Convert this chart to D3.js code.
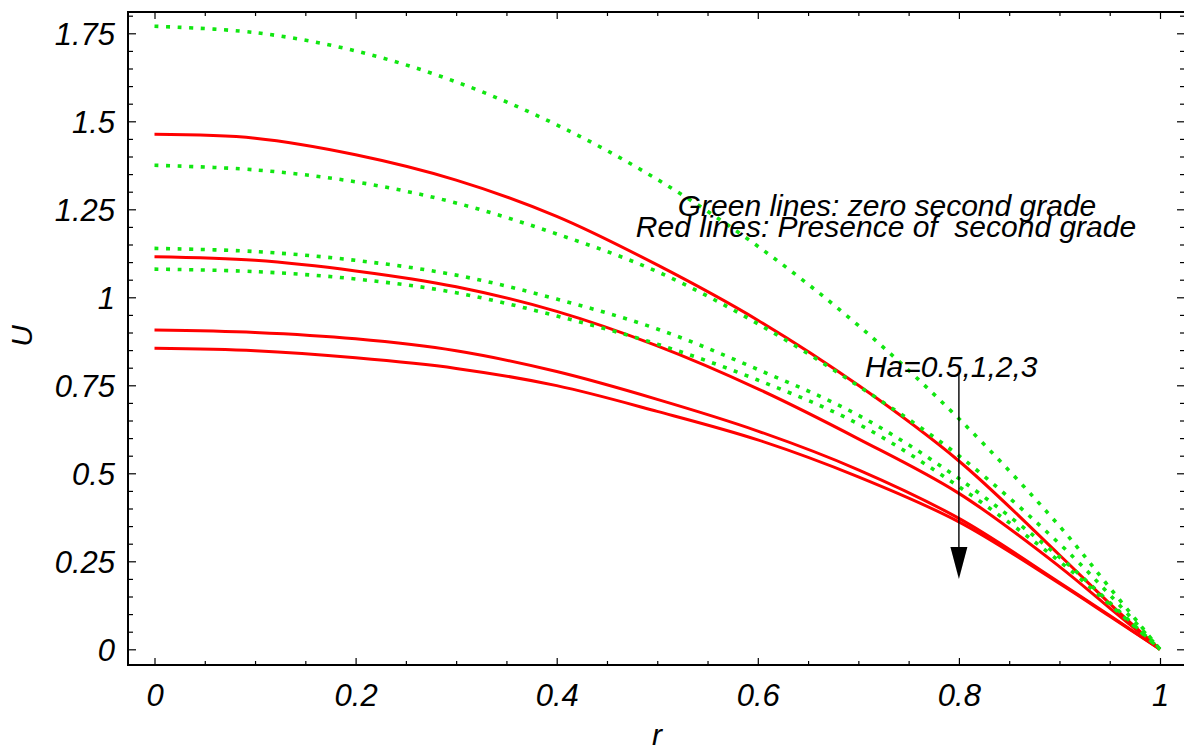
<!DOCTYPE html>
<html>
<head>
<meta charset="utf-8">
<script src="https://cdn.jsdelivr.net/npm/d3@7"></script>
<style>
  html, body { margin: 0; padding: 0; background: #fff; }
  svg { display: block; }
  text { font-family: "Liberation Sans", Arial, sans-serif; font-style: italic; }
</style>
</head>
<body>
<svg id="chart" width="1184" height="747"></svg>
<script>
// ---- data ----
const rValues = [0, 0.1, 0.2, 0.3, 0.4, 0.5, 0.6, 0.7, 0.8, 0.9, 0.95, 1];
// Green lines: zero second grade, Ha = 0.5, 1, 2, 3
const greenHa05 = [1.77, 1.752, 1.70, 1.612, 1.49, 1.335, 1.145, 0.92, 0.655, 0.35, 0.175, 0];
const greenHa1  = [1.375, 1.362, 1.328, 1.268, 1.18, 1.073, 0.925, 0.748, 0.55, 0.30, 0.155, 0];
const greenHa2  = [1.139, 1.13, 1.105, 1.063, 0.995, 0.91, 0.795, 0.665, 0.485, 0.262, 0.133, 0];
const greenHa3  = [1.08, 1.073, 1.052, 1.013, 0.947, 0.867, 0.765, 0.64, 0.462, 0.25, 0.127, 0];
// Red lines: presence of second grade, Ha = 0.5, 1, 2, 3
const redHa05 = [1.463, 1.452, 1.405, 1.333, 1.23, 1.092, 0.935, 0.75, 0.535, 0.268, 0.13, 0];
const redHa1  = [1.115, 1.105, 1.075, 1.030, 0.96, 0.862, 0.74, 0.598, 0.443, 0.235, 0.117, 0];
const redHa2  = [0.907, 0.90, 0.882, 0.848, 0.789, 0.71, 0.62, 0.51, 0.372, 0.19, 0.096, 0];
const redHa3  = [0.855, 0.848, 0.828, 0.798, 0.749, 0.676, 0.595, 0.49, 0.362, 0.187, 0.094, 0];

const xTickValues = [0, 0.2, 0.4, 0.6, 0.8, 1];
const xTickLabels = ["0", "0.2", "0.4", "0.6", "0.8", "1"];
const yTickValues = [0, 0.25, 0.5, 0.75, 1, 1.25, 1.5, 1.75];
const yTickLabels = ["0", "0.25", "0.5", "0.75", "1", "1.25", "1.5", "1.75"];

const annotGreen = "Green lines: zero second grade";
const annotRed = "Red lines: Presence of  second grade";
const annotHa = "Ha=0.5,1,2,3";
const xLabel = "r";
const yLabel = "U";
// arrow: at r = 0.8, from U = 0.785 down to U = 0.2
const arrowR = 0.8, arrowFrom = 0.785, arrowTo = 0.2;

// ---- layout ----
const svg = d3.select("#chart");
const frame = { left: 128, right: 1185, top: 12, bottom: 665 };
const x = d3.scaleLinear().domain([0, 1]).range([154.5, 1160]);
const y = d3.scaleLinear().domain([0, 1.75]).range([649.3, 33.3]);

const fontSize = 30;
const tickFont = 31;

// minor ticks
const xMinorExt = d3.range(0, 1.0001, 0.05).map(v => +v.toFixed(2)).filter(v => !xTickValues.includes(v));
const yMinor = d3.range(0, 1.80001, 0.05).map(v => +v.toFixed(2)).filter(v => !yTickValues.includes(v));

function styleAxis(g) {
  g.select(".domain").remove();
  g.selectAll(".tick line").attr("stroke", "#000").attr("stroke-width", 1.2);
  g.selectAll(".tick text").attr("fill", "#000").style("font-size", tickFont + "px")
    .style("font-style", "italic").attr("font-family", null);
}

// left axis (labels)
svg.append("g").attr("transform", `translate(${frame.left},0)`)
  .call(d3.axisLeft(y).tickValues(yTickValues).tickSize(-8).tickPadding(13)
    .tickFormat((d, i) => yTickLabels[i]))
  .call(styleAxis)
  .call(g => g.selectAll(".tick text").attr("dy", "0.36em"));
svg.append("g").attr("transform", `translate(${frame.left},0)`)
  .call(d3.axisLeft(y).tickValues(yMinor).tickSize(-5).tickFormat(""))
  .call(styleAxis);

// right axis (ticks only)
svg.append("g").attr("transform", `translate(${frame.right},0)`)
  .call(d3.axisRight(y).tickValues(yTickValues).tickSize(-8).tickFormat(""))
  .call(styleAxis);
svg.append("g").attr("transform", `translate(${frame.right},0)`)
  .call(d3.axisRight(y).tickValues(yMinor).tickSize(-5).tickFormat(""))
  .call(styleAxis);

// bottom axis
svg.append("g").attr("transform", `translate(0,${frame.bottom})`)
  .call(d3.axisBottom(x).tickValues(xTickValues).tickSize(-7).tickPadding(19)
    .tickFormat((d, i) => xTickLabels[i]))
  .call(styleAxis);
svg.append("g").attr("transform", `translate(0,${frame.bottom})`)
  .call(d3.axisBottom(x).tickValues(xMinorExt).tickSize(-4).tickFormat(""))
  .call(styleAxis);

// top axis (ticks only)
svg.append("g").attr("transform", `translate(0,${frame.top})`)
  .call(d3.axisTop(x).tickValues(xTickValues).tickSize(-7).tickFormat(""))
  .call(styleAxis);
svg.append("g").attr("transform", `translate(0,${frame.top})`)
  .call(d3.axisTop(x).tickValues(xMinorExt).tickSize(-4).tickFormat(""))
  .call(styleAxis);

// frame
svg.append("rect")
  .attr("x", frame.left).attr("y", frame.top)
  .attr("width", frame.right - frame.left).attr("height", frame.bottom - frame.top)
  .attr("fill", "none").attr("stroke", "#000").attr("stroke-width", 2);

// ---- curves ----
const line = d3.line().x(d => x(d[0])).y(d => y(d[1])).curve(d3.curveCatmullRom.alpha(0.5));
const toPts = arr => rValues.map((r, i) => [r, arr[i]]);

const redSeries = [redHa05, redHa1, redHa2, redHa3];
const greenSeries = [greenHa05, greenHa1, greenHa2, greenHa3];

svg.append("g").selectAll("path.red").data(redSeries).join("path")
  .attr("class", "red")
  .attr("d", d => line(toPts(d)))
  .attr("fill", "none").attr("stroke", "#ff0000").attr("stroke-width", 3);

svg.append("g").selectAll("path.green").data(greenSeries).join("path")
  .attr("class", "green")
  .attr("d", d => line(toPts(d)))
  .attr("fill", "none").attr("stroke", "#11e611").attr("stroke-width", 3.6)
  .attr("stroke-dasharray", "4,7.6");

// ---- annotations ----
svg.append("text").attr("x", x(0.7285)).attr("y", y(1.231))
  .attr("text-anchor", "middle").style("font-size", fontSize + "px")
  .style("white-space", "pre").attr("fill", "#000").text(annotGreen);
svg.append("text").attr("x", x(0.7275)).attr("y", y(1.171))
  .attr("text-anchor", "middle").style("font-size", fontSize + "px")
  .style("white-space", "pre").attr("fill", "#000").text(annotRed);
svg.append("text").attr("x", x(0.7065)).attr("y", y(0.7736))
  .attr("text-anchor", "start").style("font-size", fontSize + "px")
  .attr("fill", "#000").text(annotHa);

// arrow
const ax = x(arrowR);
svg.append("line").attr("x1", ax).attr("x2", ax)
  .attr("y1", y(arrowFrom)).attr("y2", y(arrowTo) - 20)
  .attr("stroke", "#000").attr("stroke-width", 1.4);
svg.append("path")
  .attr("d", `M${ax - 8.5},${y(arrowTo) - 32} L${ax + 8.5},${y(arrowTo) - 32} L${ax},${y(arrowTo)} Z`)
  .attr("fill", "#000");

// axis labels
svg.append("text").attr("x", 657).attr("y", 745).attr("text-anchor", "middle")
  .style("font-size", fontSize + "px").attr("fill", "#000").text(xLabel);
svg.append("text").attr("transform", "translate(32,336) rotate(-90)")
  .attr("text-anchor", "middle").style("font-size", fontSize + "px")
  .attr("fill", "#000").text(yLabel);
</script>
</body>
</html>
